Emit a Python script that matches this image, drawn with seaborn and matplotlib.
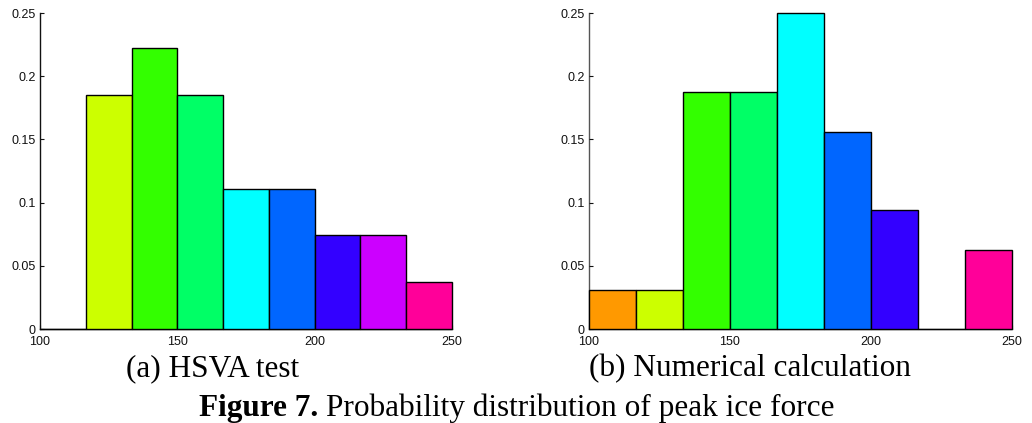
import numpy as np
import pandas as pd
import matplotlib
matplotlib.use('Agg')
import matplotlib.pyplot as plt
import seaborn as sns

# bins of peak ice force (100 - 250, nine bins)
bin_edges = np.linspace(100, 250, 10)
bin_centers = (bin_edges[:-1] + bin_edges[1:]) / 2

prob_hsva = [0, 0.185, 0.222, 0.185, 0.111, 0.111, 0.074, 0.074, 0.037]
prob_num = [0.031, 0.031, 0.1875, 0.1875, 0.25, 0.156, 0.094, 0, 0.0625]

bin_colors = ['#FF9900', '#CCFF00', '#33FF00', '#00FF66', '#00FFFF',
              '#0066FF', '#3300FF', '#CC00FF', '#FF0099']

x_ticks = [100, 150, 200, 250]
y_ticks = [0, 0.05, 0.1, 0.15, 0.2, 0.25]
y_labels = ['0', '0.05', '0.1', '0.15', '0.2', '0.25']

captions = ['(a) HSVA test', '(b) Numerical calculation']

sns.set_style('ticks')
plt.rcParams['font.family'] = ['Liberation Sans', 'DejaVu Sans']
plt.rcParams['text.color'] = 'black'

fig = plt.figure(figsize=(10.32, 4.23), dpi=100)
ax1 = fig.add_axes([40/1032, 94/423, 412/1032, 316/423])
ax2 = fig.add_axes([589/1032, 94/423, 423/1032, 316/423])

for ax, probs, spine_col in [(ax1, prob_hsva, '#111111'), (ax2, prob_num, '#555555')]:
    df = pd.DataFrame({'center': bin_centers, 'prob': probs,
                       'bin': [str(i) for i in range(len(probs))]})
    sns.barplot(data=df, x='center', y='prob', hue='bin', palette=bin_colors,
                native_scale=True, dodge=False, width=1, errorbar=None,
                saturation=1, edgecolor='black', linewidth=1, legend=False, ax=ax)
    ax.set_xlim(100, 250)
    ax.set_ylim(0, 0.25)
    ax.set_xticks(x_ticks)
    ax.set_xticklabels([str(t) for t in x_ticks])
    ax.set_yticks(y_ticks)
    ax.set_yticklabels(y_labels)
    ax.set_xlabel('')
    ax.set_ylabel('')
    ax.set_axisbelow(True)
    ax.tick_params(direction='in', length=3, width=0.8, labelsize=9,
                   colors='#111111')
    ax.tick_params(axis='y', pad=3)
    ax.tick_params(axis='x', pad=5)
    sns.despine(ax=ax)
    for s in ['left', 'bottom']:
        ax.spines[s].set_color(spine_col)
        ax.spines[s].set_linewidth(1)
        ax.spines[s].set_zorder(0.5)
    for p in ax.patches:
        p.set_clip_on(False)

serif = ['Liberation Serif', 'DejaVu Serif']
fig.text(213/1032, 1 - 376/423, captions[0], ha='center', va='baseline',
         fontsize=22.5, family=serif)
fig.text(750/1032, 1 - 376/423, captions[1], ha='center', va='baseline',
         fontsize=22.5, family=serif)

# figure caption: bold label followed by regular text, centred as a whole
r = fig.canvas.get_renderer()
t_bold = fig.text(0, 1 - 416/423, 'Figure 7. ', ha='left', va='baseline',
                  fontsize=22.5, family=serif, fontweight='bold')
t_rest = fig.text(0, 1 - 416/423, 'Probability distribution of peak ice force',
                  ha='left', va='baseline', fontsize=22.5, family=serif)
wb = t_bold.get_window_extent(r).width
wr = t_rest.get_window_extent(r).width
x0 = 517 - (wb + wr) / 2
t_bold.set_x(x0 / 1032)
t_rest.set_x((x0 + wb) / 1032)

fig.savefig('out.png', dpi=100)
